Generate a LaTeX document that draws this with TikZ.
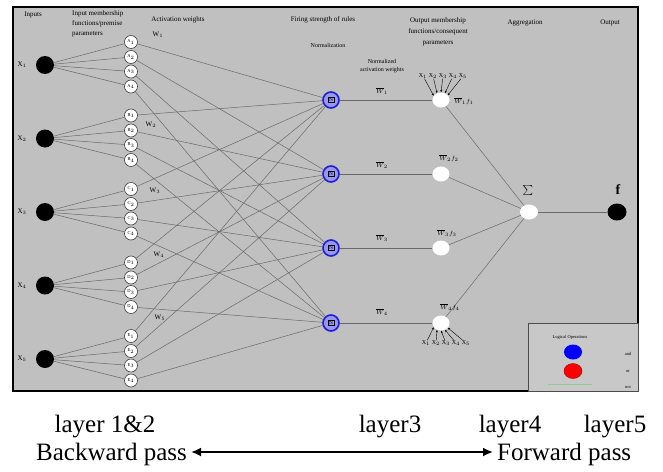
\documentclass[tikz,border=0pt]{standalone}
\usepackage{fontspec}
\setmainfont{Liberation Serif}
\usetikzlibrary{arrows.meta,shapes.geometric}
\definecolor{panelgrey}{RGB}{192,192,192}
\definecolor{legendgrey}{RGB}{200,200,200}
\definecolor{wireg}{RGB}{105,105,105}
\definecolor{rulefill}{RGB}{150,150,255}
\definecolor{ruleedge}{RGB}{30,30,210}
\definecolor{legendgreen}{RGB}{150,200,150}

\begin{document}
\begin{tikzpicture}[x=1pt,y=-1pt,
  inputnode/.style={circle, fill=black, minimum size=18pt, inner sep=0pt},
  outnode/.style={ellipse, fill=black, minimum width=19pt, minimum height=17pt, inner sep=0pt},
  mfnode/.style={circle, draw=gray!50!black, fill=white, line width=0.6pt,
    minimum size=13pt, inner sep=0pt, font=\fontsize{4.5}{5}\selectfont},
  rulenode/.style={circle, draw=ruleedge, line width=1.6pt, fill=rulefill,
    minimum size=16pt, inner sep=0pt, font=\fontsize{5.5}{6}\selectfont},
  whitenode/.style={ellipse, fill=white, minimum width=17pt, minimum height=15pt, inner sep=0pt},
  wire/.style={draw=wireg, line width=0.5pt},
  tinytext/.style={font=\fontsize{7}{10}\selectfont, inner sep=0pt},
  smalltext/.style={font=\fontsize{6}{8}\selectfont, inner sep=0pt},
  legendtext/.style={font=\fontsize{4.5}{5}\selectfont, inner sep=0pt},
  bigtext/.style={font=\fontsize{25}{27}\selectfont, inner sep=0pt, anchor=base},
  ptr/.style={-{Stealth[length=2.5pt,width=2pt]}, line width=0.4pt, black}
]
\useasboundingbox (0,0) rectangle (663,471);

% grey panel
\draw[fill=panelgrey, line width=2.5pt] (13,7) rectangle (638,391);

% column headings
\node[tinytext] (hin) at (33,15) {Inputs};
\node[tinytext, anchor=north west, align=left] (hmf) at (72,10)
  {Input membership\\functions/premise\\parameters};
\node[tinytext] (hact) at (178,20) {Activation weights};
\node[tinytext] (hfire) at (323,20) {Firing strength of rules};
\node[smalltext] (hnorm) at (328,45) {Normalization};
\node[smalltext, align=center] (hnaw) at (382,66) {Normalized\\activation weights};
\node[tinytext, align=center, font=\fontsize{7}{11}\selectfont] (hout) at (438,32)
  {Output membership\\functions/consequent\\parameters};
\node[tinytext] (hagg) at (525,23) {Aggregation};
\node[tinytext] (hres) at (610,23) {Output};

% layer 3 rule nodes, layer 4 consequent nodes
\foreach \j/\y in {1/100,2/174,3/248,4/323} {
  \node[rulenode] (r\j) at (331,\y) {\setlength\fboxsep{0.6pt}\setlength\fboxrule{0.4pt}\fbox{N}};
  \node[whitenode] (c\j) at (441,\y) {};
  \draw[wire, line width=0.8pt] (r\j) -- (c\j);
}

% aggregation and output
\node[whitenode, minimum width=18pt] (agg) at (529,212) {};
\node[outnode] (out) at (617,212) {};
\node[font=\fontsize{13}{13}\selectfont, inner sep=0pt] (sig) at (528,190) {$\textstyle\sum$};
\node[font=\fontsize{14}{14}\selectfont\bfseries, inner sep=0pt] (fl) at (618,190) {f};
\foreach \j in {1,...,4} \draw[wire] (c\j) -- (agg);
\draw[wire, line width=0.8pt] (agg) -- (out);

% inputs and their membership functions
\foreach \i/\y/\L in {1/65/A,2/138.5/B,3/212/C,4/285.5/D,5/359/E} {
  \node[inputnode] (in\i) at (45,\y) {};
  \node[tinytext] (xl\i) at (22,\y) {X$_{\i}$};
  \foreach \j/\dy in {1/-23,2/-8,3/6.5,4/21.5} {
    \node[mfnode] (m\i\j) at (131,\y+\dy) {\L$_{\j}$};
    \draw[wire] (in\i) -- (m\i\j);
  }
}

% membership function j feeds rule j
\foreach \i in {1,...,5}
  \foreach \j in {1,...,4}
    \draw[wire] (m\i\j) -- (r\j);

% activation weights
\node[tinytext] (w1) at (158,35) {W$_1$};
\node[tinytext] (w2) at (151,125) {W$_2$};
\node[tinytext] (w3) at (155,191) {W$_3$};
\node[tinytext] (w4) at (159,255) {W$_4$};
\node[tinytext] (w5) at (160,318) {W$_5$};

% normalized weights
\node[smalltext] (nb1) at (382,91) {$\overline{W}_1$};
\node[smalltext] (nb2) at (382,165) {$\overline{W}_2$};
\node[smalltext] (nb3) at (382,238) {$\overline{W}_3$};
\node[smalltext] (nb4) at (382,312) {$\overline{W}_4$};

% consequent products
\node[smalltext] (wf1) at (464,101) {$\overline{W}_1 f_1$};
\node[smalltext] (wf2) at (449,158) {$\overline{W}_2 f_2$};
\node[smalltext] (wf3) at (447,233) {$\overline{W}_3 f_3$};
\node[smalltext] (wf4) at (450,307) {$\overline{W}_4 f_4$};

% input signals entering the first and last consequent nodes
\foreach \k/\x/\a in {1/423/150,2/433/120,3/443/90,4/453/60,5/463/35} {
  \node[smalltext] (ta\k) at (\x,76) {X$_{\k}$};
  \draw[ptr] (ta\k) -- (c1.\a);
  \node[smalltext] (tb\k) at (\x+3,343) {X$_{\k}$};
  \draw[ptr] (tb\k) -- (c4.-\a);
}

% legend
\draw[fill=legendgrey, draw=gray!60!black, line width=0.8pt] (528,323) rectangle (638,391);
\node[legendtext] (lgt) at (570,337) {Logical Operations};
\node[ellipse, fill=blue, minimum width=18pt, minimum height=15pt, inner sep=0pt] (lgb) at (573,352) {};
\node[ellipse, fill=red, draw=red!60!black, line width=0.4pt, minimum width=18pt, minimum height=15pt, inner sep=0pt] (lgr) at (573,371) {};
\coordinate (lgl) at (548,384);
\coordinate (lgm) at (592,384);
\draw[legendgreen, line width=0.8pt] (lgl) -- (lgm);
\node[legendtext] (lga) at (628,354) {and};
\node[legendtext] (lgo) at (628,371) {or};
\node[legendtext] (lgn) at (628,387) {not};

% layer captions and pass arrow
\node[bigtext] (l12) at (105,432) {layer 1\&2};
\node[bigtext] (l3) at (390,432) {layer3};
\node[bigtext] (l4) at (510,432) {layer4};
\node[bigtext] (l5) at (615,432) {layer5};
\node[bigtext, anchor=base east] (bw) at (187,460) {Backward pass};
\node[bigtext, anchor=base west] (fw) at (497,460) {Forward pass};
\draw[{Latex[length=10pt,width=9pt]}-{Latex[length=10pt,width=9pt]}, line width=1.8pt]
  ([xshift=4pt,yshift=8pt]bw.base east) -- ([xshift=-4pt,yshift=8pt]fw.base west);
\end{tikzpicture}
\end{document}
